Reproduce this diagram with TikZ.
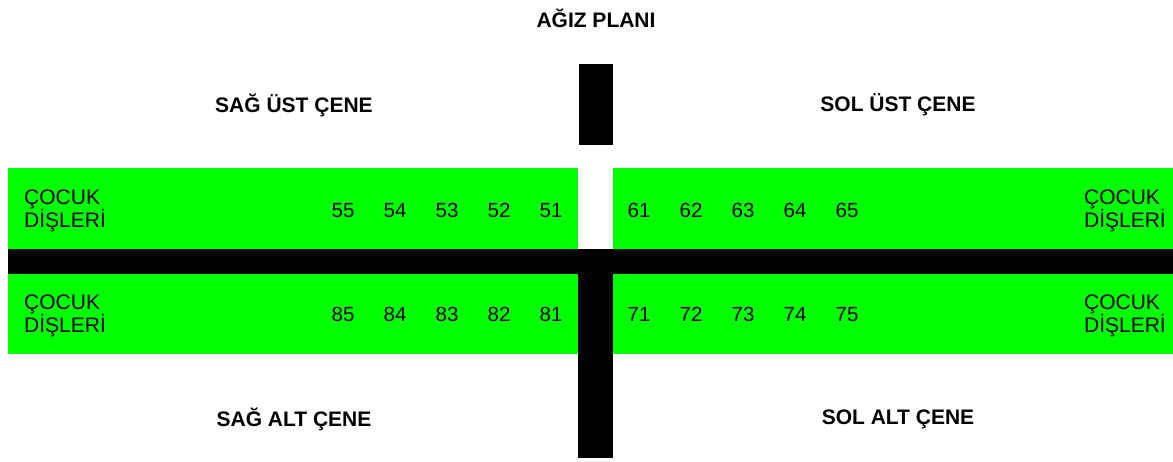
\documentclass[tikz,border=0pt]{standalone}
\usepackage{fontspec}
\setmainfont{Liberation Sans}
\usetikzlibrary{positioning}
\tikzset{
x=1pt, y=-1pt, % one unit is one pixel of the page, y runs downwards
node distance=52pt, on grid, % distance between the centres of two teeth
tooth/.style={font=\fontsize{20.5}{23}\selectfont, inner sep=0pt, text height=14.7pt, text depth=0pt}, % the tooth numbers
kind/.style={font=\fontsize{21}{23}\selectfont, inner sep=0pt, align=left}, % the side labels
jaw/.style={font=\bfseries\fontsize{21}{23}\selectfont, inner sep=0pt}, % the jaw titles
band/.style={fill=green}, % the green rows
bar/.style={fill=black}, % the black lines of the cross
}

\begin{document}
\begin{tikzpicture}
       \useasboundingbox (0,0) rectangle (1173,461);

       \fill[band] (8,168) rectangle (578,249);
       \fill[band] (613,168) rectangle (1173,249);
       \fill[band] (8,274) rectangle (578,354);
       \fill[band] (613,274) rectangle (1173,354);
       \fill[bar] (579,64) rectangle (613,145);
       \fill[bar] (8,249) rectangle (1173,274);
       \fill[bar] (578,249) rectangle (613,458);

       \node[jaw] (TITLE) at (596,18) {AĞIZ PLANI};
       \node[jaw] (RU) at (294,105) {SAĞ ÜST ÇENE};
       \node[jaw] (LU) at (898,105) {SOL ÜST ÇENE};
       \node[jaw] (RL) at (294,419) {SAĞ ALT ÇENE};
       \node[jaw] (LL) at (898,419) {SOL ALT ÇENE};

       \node[kind, anchor=west] (K1) at (24,211) {ÇOCUK\\DİŞLERİ};
       \node[kind, anchor=east] (K2) at (1166,211) {ÇOCUK\\DİŞLERİ};
       \node[kind, anchor=west] (K3) at (24,316) {ÇOCUK\\DİŞLERİ};
       \node[kind, anchor=east] (K4) at (1166,316) {ÇOCUK\\DİŞLERİ};

       \node[tooth] (t55) at (343,210) {55};
       \node[tooth, right=of t55] (t54) {54};
       \node[tooth, right=of t54] (t53) {53};
       \node[tooth, right=of t53] (t52) {52};
       \node[tooth, right=of t52] (t51) {51};

       \node[tooth] (t61) at (639,210) {61};
       \node[tooth, right=of t61] (t62) {62};
       \node[tooth, right=of t62] (t63) {63};
       \node[tooth, right=of t63] (t64) {64};
       \node[tooth, right=of t64] (t65) {65};

       \node[tooth] (t85) at (343,314) {85};
       \node[tooth, right=of t85] (t84) {84};
       \node[tooth, right=of t84] (t83) {83};
       \node[tooth, right=of t83] (t82) {82};
       \node[tooth, right=of t82] (t81) {81};

       \node[tooth] (t71) at (639,314) {71};
       \node[tooth, right=of t71] (t72) {72};
       \node[tooth, right=of t72] (t73) {73};
       \node[tooth, right=of t73] (t74) {74};
       \node[tooth, right=of t74] (t75) {75};

  \end{tikzpicture}
\end{document}
